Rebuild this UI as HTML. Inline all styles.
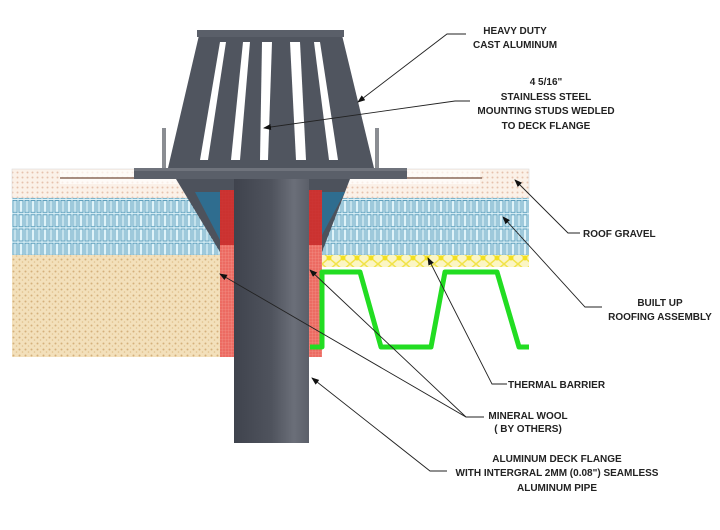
<!DOCTYPE html>
<html><head><meta charset="utf-8"><style>
html,body{margin:0;padding:0;background:#fff}
svg{display:block}
text{font-family:"Liberation Sans",sans-serif;font-weight:bold;font-size:10px;fill:#222}
</style></head><body>
<svg width="720" height="530" viewBox="0 0 720 530" xmlns="http://www.w3.org/2000/svg">
<defs>
<pattern id="ins" width="12" height="14.25" patternUnits="userSpaceOnUse">
<rect width="12" height="14.25" fill="#dff3f9"/>
<rect x="1" y="1" width="4" height="12" fill="none" stroke="#5d9fbd" stroke-width="1"/>
<rect x="7" y="1" width="4" height="12" fill="none" stroke="#5d9fbd" stroke-width="1"/>
<line x1="3" y1="1" x2="3" y2="13" stroke="#9cc7d9" stroke-width="0.8"/>
</pattern>
<pattern id="sand" width="6" height="6" patternUnits="userSpaceOnUse">
<rect width="6" height="6" fill="#f3e0bb"/>
<circle cx="1.5" cy="1.5" r="1" fill="#d5b07c"/>
<circle cx="4.5" cy="4" r="0.8" fill="#e0c28e"/>
</pattern>
<pattern id="grav" width="5" height="5" patternUnits="userSpaceOnUse">
<rect width="5" height="5" fill="#fbf1e8"/>
<circle cx="2.5" cy="2.5" r="1" fill="#e6c2ad"/>
</pattern>
<pattern id="redg" width="3" height="3" patternUnits="userSpaceOnUse">
<rect width="3" height="3" fill="#ec6b62"/>
<path d="M0 0H3M0 0V3" stroke="#f59a90" stroke-width="0.6"/>
</pattern>
<pattern id="yel" width="14" height="12" patternUnits="userSpaceOnUse">
<rect width="14" height="12" fill="#fbf5c4"/>
<path d="M0 0L14 12M14 0L0 12" stroke="#f1e34a" stroke-width="1.5"/>
<circle cx="7" cy="6" r="2.5" fill="#f2e020"/>
</pattern>
<linearGradient id="pipe" x1="0" x2="1">
<stop offset="0" stop-color="#3f434d"/><stop offset="0.5" stop-color="#4f535d"/><stop offset="0.8" stop-color="#6b6f79"/><stop offset="1" stop-color="#5b5f69"/>
</linearGradient>
<marker id="ar" markerWidth="8" markerHeight="6" refX="7" refY="3" orient="auto" markerUnits="userSpaceOnUse">
<path d="M0 0L8 3L0 6z" fill="#111"/>
</marker>
</defs>

<rect x="12" y="169" width="517" height="29" fill="url(#grav)" stroke="#ddd" stroke-width="0.6"/>
<rect x="60" y="170" width="420" height="14" fill="#fff" opacity="0.7"/>
<rect x="12" y="198" width="517" height="57" fill="url(#ins)"/>
<rect x="12" y="255" width="208" height="102" fill="url(#sand)"/>
<rect x="322" y="255" width="207" height="12" fill="url(#yel)"/>
<line x1="60" y1="178" x2="140" y2="178" stroke="#8a6a5a" stroke-width="1.5"/>
<line x1="405" y1="178" x2="482" y2="178" stroke="#8a6a5a" stroke-width="1.5"/>

<polygon points="176,179 234,179 234,252 220,252" fill="#4d525c"/>
<polygon points="195,192 220,192 220,240" fill="#2f6d8f"/>
<polygon points="309,179 350,179 322,252 309,252" fill="#4d525c"/>
<polygon points="322,192 345,192 322,235" fill="#2f6d8f"/>

<rect x="220" y="190" width="14" height="167" fill="url(#redg)"/>
<rect x="220" y="190" width="14" height="55" fill="#c62828" opacity="0.85"/>
<rect x="308" y="190" width="14" height="167" fill="url(#redg)"/>
<rect x="308" y="190" width="14" height="55" fill="#c62828" opacity="0.85"/>

<rect x="234" y="179" width="75" height="264" fill="url(#pipe)"/>

<polyline points="529,347 519,347 497,272 445,272 431,347 381,347 360,272 322,272 322,347 310,347" fill="none" stroke="#22dd22" stroke-width="5" stroke-linejoin="round"/>

<rect x="162" y="128" width="4" height="42" fill="#8a8d92"/>
<rect x="270" y="128" width="4" height="42" fill="#8a8d92"/>
<rect x="375" y="128" width="4" height="42" fill="#8a8d92"/>

<polygon points="200,31 341,31 374,168 168,168" fill="#50555f"/>
<g fill="#fff">
<polygon points="220,42 226,42 208,160 200,160"/>
<polygon points="243,42 250,42 240,160 231,160"/>
<polygon points="262,42 272,42 268,160 260,160"/>
<polygon points="290,42 300,42 306,160 296,160"/>
<polygon points="314,42 320,42 338,160 329,160"/>
</g>
<rect x="197" y="30" width="147" height="7" fill="#5a5f69"/>
<rect x="134" y="168" width="273" height="11" fill="#5a5f69"/>
<rect x="134" y="168" width="273" height="3" fill="#6f737c"/>

<g stroke="#222" stroke-width="0.9" fill="none">
<polyline points="466,34 447,34 358,102" marker-end="url(#ar)"/>
<polyline points="470,101 455,101 264,128" marker-end="url(#ar)"/>
<polyline points="580,233 568,233 515,180" marker-end="url(#ar)"/>
<polyline points="602,307 585,307 503,217" marker-end="url(#ar)"/>
<polyline points="507,384 492,384 428,258" marker-end="url(#ar)"/>
<polyline points="484,417 466,417 220,274" marker-end="url(#ar)"/>
<polyline points="466,417 310,270" marker-end="url(#ar)"/>
<polyline points="447,471 430,471 312,378" marker-end="url(#ar)"/>
</g>

<g text-anchor="middle">
<text x="515" y="34">HEAVY DUTY</text>
<text x="515" y="48">CAST ALUMINUM</text>
<text x="546" y="85">4 5/16"</text>
<text x="546" y="100">STAINLESS STEEL</text>
<text x="546" y="114">MOUNTING STUDS WEDLED</text>
<text x="546" y="129">TO DECK FLANGE</text>
<text x="660" y="306">BUILT UP</text>
<text x="660" y="320">ROOFING ASSEMBLY</text>
<text x="528" y="419">MINERAL WOOL</text>
<text x="528" y="432">( BY OTHERS)</text>
<text x="557" y="462">ALUMINUM DECK FLANGE</text>
<text x="557" y="476">WITH INTERGRAL 2MM (0.08") SEAMLESS</text>
<text x="557" y="491">ALUMINUM PIPE</text>
</g>
<text x="583" y="237">ROOF GRAVEL</text>
<text x="508" y="388">THERMAL BARRIER</text>
</svg>
</body></html>
